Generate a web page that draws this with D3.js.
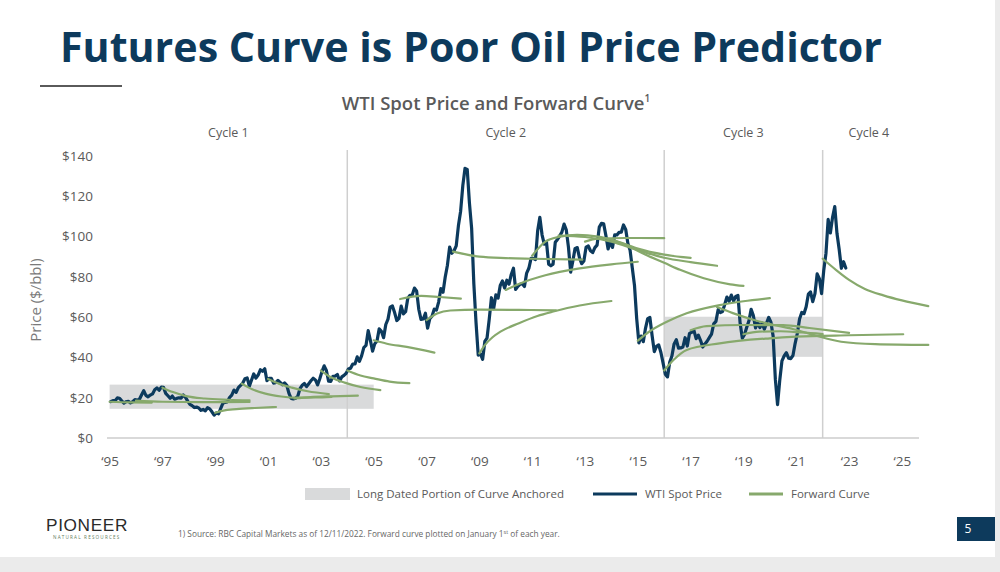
<!DOCTYPE html>
<html><head><meta charset="utf-8">
<script src="https://cdn.jsdelivr.net/npm/d3@7"></script>
<style>
html,body{margin:0;padding:0;background:#fff;}
svg{display:block;font-family:"Open Sans",sans-serif;}
</style></head>
<body><svg id="c" width="1000" height="572"></svg>
<script>
// ---------- DATA ----------
const spotStartYear = 1995;
// WTI monthly average spot price ($/bbl), Jan 1995 onward
const wtiSpot = [
18.04,18.57,18.54,19.90,19.74,18.45,17.33,18.02,18.23,17.43,17.99,19.03,
18.86,19.09,21.33,23.50,21.17,20.42,21.30,21.90,23.97,24.88,23.71,25.23,
25.13,22.18,20.97,19.70,20.82,19.26,19.66,19.95,19.80,21.33,20.19,18.33,
16.72,16.06,15.12,15.35,14.91,13.72,14.17,13.47,15.03,14.46,13.00,11.35,
12.52,12.01,14.68,17.31,17.72,17.92,20.10,21.28,23.80,22.69,25.00,26.10,
27.26,29.37,29.84,25.72,28.79,31.82,29.70,31.26,33.88,33.11,34.42,28.44,
29.59,29.61,27.25,27.49,28.63,27.60,26.43,27.37,26.20,22.17,19.64,19.39,
19.72,20.72,24.53,26.18,27.04,25.52,26.97,28.39,29.66,28.84,26.35,29.46,
32.95,35.83,33.51,28.17,28.11,30.66,30.75,31.57,28.31,30.34,31.11,32.13,
34.31,34.69,36.74,36.75,40.28,38.03,40.78,44.90,45.94,53.28,48.47,43.15,
46.84,48.15,54.19,52.98,49.83,56.35,59.00,64.99,65.59,62.26,58.32,59.41,
65.49,61.63,62.69,69.44,70.84,70.95,74.41,73.04,63.80,58.89,59.08,61.96,
54.51,59.28,60.44,63.98,63.46,67.49,74.12,72.36,79.92,85.80,94.77,91.69,
92.97,95.39,105.45,112.58,125.40,133.88,133.37,116.67,104.11,76.61,57.31,41.12,
41.71,39.09,47.94,49.65,59.03,69.64,64.15,71.05,69.41,75.72,77.99,74.47,
78.33,76.39,81.20,84.29,73.74,75.34,76.32,76.60,75.24,81.89,84.25,89.15,
89.17,88.58,102.86,109.53,100.90,96.26,97.30,86.33,85.52,86.32,97.16,98.56,
100.27,102.20,106.16,103.32,94.66,82.30,87.90,94.13,94.51,89.49,86.53,87.86,
94.76,95.31,92.94,92.02,94.51,95.77,104.67,106.57,106.29,100.54,93.86,97.63,
94.62,100.82,100.80,102.07,102.18,105.79,103.59,96.54,93.21,84.40,75.79,59.29,
47.22,50.58,47.82,54.45,59.27,59.82,50.90,42.87,45.48,46.22,42.44,37.19,
31.68,30.32,37.55,40.75,46.71,48.76,44.65,44.72,45.18,49.78,45.66,51.97,
52.50,53.47,49.33,51.06,48.48,45.18,46.63,48.04,49.82,51.58,56.64,57.88,
63.70,62.23,62.73,66.25,69.98,67.87,70.98,68.06,70.23,70.75,56.96,49.52,
51.38,54.95,58.15,63.86,60.83,54.66,57.35,54.81,56.95,53.96,57.03,59.88,
57.52,50.54,29.21,16.55,28.56,38.31,40.71,42.34,39.63,39.40,40.94,47.02,
52.00,59.04,62.33,61.72,65.17,71.38,72.49,67.73,71.65,81.48,79.15,71.71,
83.22,91.64,108.50,101.78,109.55,114.84,101.62,93.67,84.26,87.55,84.37
];

// Forward curves, plotted from January 1st of each year: [year, $/bbl]
const fwd1995 = [[1995.0,18.0],[1995.8,17.7],[1996.6,17.6]];
const fwd1996 = [[1996.0,18.6],[1997.0,18.0],[1998.5,17.8],[2000.3,17.9]];
const fwd1997 = [[1997.0,25.0],[1997.4,22.8],[1997.9,20.8],[1998.6,19.6],[1999.5,19.0],[2000.3,18.7]];
const fwd1999 = [[1999.0,12.5],[1999.3,13.6],[1999.8,14.3],[2000.5,14.9],[2001.3,15.4]];
const fwd2000 = [[2000.0,27.0],[2000.4,24.2],[2000.9,22.0],[2001.5,20.6],[2002.1,20.0],[2002.8,20.1],[2003.4,20.4]];
const fwd2001 = [[2001.0,29.3],[2001.4,27.0],[2001.9,25.0],[2002.5,23.2],[2003.3,21.8]];
const fwd2002 = [[2002.0,19.6],[2002.6,20.3],[2003.4,20.7],[2004.4,21.0]];
const fwd2003 = [[2003.0,33.5],[2003.4,30.0],[2003.9,27.5],[2004.5,25.3],[2005.25,23.8]];
const fwd2004 = [[2004.0,33.5],[2004.5,31.0],[2005.0,29.6],[2005.6,28.0],[2006.35,27.2]];
const fwd2005 = [[2005.0,48.5],[2005.5,46.8],[2006.25,45.2],[2007.3,42.4]];
const fwd2006 = [[2006.0,69.0],[2006.8,70.6],[2007.5,70.0],[2008.3,69.2]];
const fwd2007 = [[2007.0,58.5],[2007.4,61.8],[2007.9,63.3],[2009.0,63.7],[2010.5,63.6],[2011.9,63.4]];
const fwd2008 = [[2008.0,92.5],[2009.0,90.0],[2010.0,89.3],[2011.0,89.0],[2012.9,88.6]];
const fwd2009 = [[2009.0,42.0],[2009.2,46.0],[2009.5,50.0],[2009.8,52.8],[2010.5,57.0],[2011.2,60.6],[2011.8,62.8],[2012.8,65.8],[2014.0,68.0]];
const fwd2010 = [[2010.0,73.5],[2010.5,76.5],[2011.5,80.8],[2012.8,84.2],[2014.0,86.2],[2015.0,87.5]];
const fwd2011 = [[2011.0,90.5],[2011.5,97.5],[2012.0,99.8],[2012.7,100.8],[2013.5,100.0],[2014.3,97.3],[2015.0,94.0],[2016.0,91.0],[2017.0,89.4]];
const fwd2012 = [[2012.0,100.5],[2013.0,99.8],[2014.0,97.5],[2015.0,93.3],[2016.0,89.5],[2017.0,87.3],[2018.0,85.5]];
const fwd2013 = [[2013.0,97.5],[2013.5,99.0],[2014.5,99.3],[2016.0,99.2]];
const fwd2014 = [[2014.0,98.5],[2014.6,95.5],[2015.3,91.0],[2016.0,87.0],[2016.6,83.5],[2017.5,79.3],[2018.5,76.3],[2019.0,75.5]];
const fwd2015 = [[2015.0,48.3],[2015.4,52.5],[2016.1,57.7],[2016.85,61.9],[2018.1,66.0],[2019.0,67.9],[2020.0,69.4]];
const fwd2016 = [[2016.0,33.5],[2016.35,38.7],[2016.85,43.7],[2018.1,47.0],[2020.0,49.5],[2021.0,50.3],[2023.0,51.0],[2025.05,51.5]];
const fwd2017 = [[2017.0,53.5],[2017.6,55.5],[2019.0,56.1],[2020.5,56.0],[2021.5,54.6],[2023.0,52.2]];
const fwd2018 = [[2018.0,65.0],[2018.6,62.0],[2019.4,58.6],[2020.2,56.0],[2020.9,54.0],[2021.7,51.0],[2022.7,47.8],[2024.0,46.6],[2026.0,46.2]];
const fwd2019 = [[2019.0,51.5],[2019.6,52.8],[2020.4,53.0],[2021.2,52.4],[2022.0,51.6]];
const fwd2022 = [[2022.0,89.0],[2022.5,83.5],[2023.0,78.5],[2023.6,74.0],[2024.3,70.8],[2025.0,68.3],[2026.0,65.5]];
const forwardCurves = [fwd1995,fwd1996,fwd1997,fwd1999,fwd2000,fwd2001,fwd2002,fwd2003,fwd2004,fwd2005,fwd2006,fwd2007,fwd2008,fwd2009,fwd2010,fwd2011,fwd2012,fwd2013,fwd2014,fwd2015,fwd2016,fwd2017,fwd2018,fwd2019,fwd2022];

// Long-dated anchored ranges: [startYear, endYear, low $, high $]
const anchoredRanges = [[1995, 2005, 14.5, 26.5], [2016, 2022, 40.3, 60.2]];
const cycleBreaks = [2004, 2016, 2022];
const cycleNames = ["Cycle 1", "Cycle 2", "Cycle 3", "Cycle 4"];
const cycleSpans = [[1995, 2004], [2004, 2016], [2016, 2022], [2022, 2025.5]];
const yTicks = [0, 20, 40, 60, 80, 100, 120, 140];
const xTicks = [1995, 1997, 1999, 2001, 2003, 2005, 2007, 2009, 2011, 2013, 2015, 2017, 2019, 2021, 2023, 2025];
const legendItems = ["Long Dated Portion of Curve Anchored", "WTI Spot Price", "Forward Curve"];

// ---------- DRAW ----------
const NAVY = "#0c3a5d", GREEN = "#87a96c", BOX = "#d9dadb", TXT = "#5a5a5a";
const svg = d3.select("#c");

svg.append("rect").attr("x", 0).attr("y", 0).attr("width", 1000).attr("height", 572).attr("fill", "#fff");
svg.append("rect").attr("x", 995).attr("y", 0).attr("width", 5).attr("height", 572).attr("fill", "#ebebeb");
svg.append("rect").attr("x", 0).attr("y", 557).attr("width", 1000).attr("height", 15).attr("fill", "#ebebeb");

// Title
svg.append("text").attr("x", 60).attr("y", 62)
  .attr("font-size", 42).attr("font-weight", 700).attr("fill", "#0d3a5c")
  .attr("textLength", 822).attr("lengthAdjust", "spacingAndGlyphs")
  .text("Futures Curve is Poor Oil Price Predictor");
svg.append("line").attr("x1", 40).attr("x2", 122).attr("y1", 86).attr("y2", 86)
  .attr("stroke", "#5a5a5a").attr("stroke-width", 2);

const sub = svg.append("text").attr("x", 496).attr("y", 110).attr("text-anchor", "middle")
  .attr("font-size", 18.5).attr("font-weight", 600).attr("fill", TXT);
sub.append("tspan").text("WTI Spot Price and Forward Curve");
sub.append("tspan").attr("font-size", 10).attr("dy", -8).text("1");

const x = d3.scaleLinear().domain([1995, 2026]).range([109.6, 928.3]);
const y = d3.scaleLinear().domain([0, 140]).range([438, 156]);

// anchored boxes
svg.append("g").selectAll("rect").data(anchoredRanges).join("rect")
  .attr("x", d => x(d[0])).attr("width", d => x(d[1]) - x(d[0]))
  .attr("y", d => y(d[3])).attr("height", d => y(d[2]) - y(d[3]))
  .attr("fill", BOX);

// cycle dividers
svg.append("g").selectAll("line").data(cycleBreaks).join("line")
  .attr("x1", d => x(d)).attr("x2", d => x(d)).attr("y1", 150).attr("y2", 438)
  .attr("stroke", "#cfcfcf").attr("stroke-width", 1.5);

svg.append("g").selectAll("text").data(cycleSpans).join("text")
  .attr("x", d => x((d[0] + d[1]) / 2)).attr("y", 137).attr("text-anchor", "middle")
  .attr("font-size", 12.5).attr("fill", TXT).text((d, i) => cycleNames[i]);

// baseline
svg.append("line").attr("x1", 107).attr("x2", 919).attr("y1", y(0)).attr("y2", y(0))
  .attr("stroke", "#cccccc").attr("stroke-width", 1.5);

// axes
const yAxis = svg.append("g").attr("transform", "translate(107,0)")
  .call(d3.axisLeft(y).tickValues(yTicks).tickSize(0).tickPadding(14).tickFormat(d => "$" + d));
yAxis.select(".domain").remove();
yAxis.selectAll("text").attr("font-size", 13.5).attr("fill", TXT).attr("font-family", "Open Sans");

const xAxis = svg.append("g").attr("transform", `translate(0,${y(0)})`)
  .call(d3.axisBottom(x).tickValues(xTicks).tickSize(0).tickPadding(18)
    .tickFormat(d => "\u2018" + String(d).slice(2)));
xAxis.select(".domain").remove();
xAxis.selectAll("text").attr("font-size", 13.5).attr("fill", TXT).attr("font-family", "Open Sans");

svg.append("text").attr("transform", "translate(41,300) rotate(-90)").attr("text-anchor", "middle")
  .attr("font-size", 15).attr("fill", "#7a7a7a").text("Price ($/bbl)");

// spot line
const spotPts = wtiSpot.map((v, i) => [spotStartYear + (i + 0.5) / 12, v]);
svg.append("path").datum(spotPts)
  .attr("d", d3.line().x(d => x(d[0])).y(d => y(d[1])))
  .attr("fill", "none").attr("stroke", NAVY).attr("stroke-width", 3.2)
  .attr("stroke-linejoin", "round").attr("stroke-linecap", "round");

// forward curves
const fLine = d3.line().x(d => x(d[0])).y(d => y(d[1])).curve(d3.curveMonotoneX);
svg.append("g").selectAll("path").data(forwardCurves).join("path")
  .attr("d", fLine).attr("fill", "none").attr("stroke", GREEN).attr("stroke-width", 2.2)
  .attr("stroke-linecap", "round");

// legend
const lg = svg.append("g").attr("font-size", 11.5).attr("fill", TXT);
lg.append("rect").attr("x", 305).attr("y", 488).attr("width", 45).attr("height", 12).attr("fill", BOX);
lg.append("text").attr("x", 357).attr("y", 498).text(legendItems[0]);
lg.append("line").attr("x1", 593).attr("x2", 637).attr("y1", 494).attr("y2", 494).attr("stroke", NAVY).attr("stroke-width", 3);
lg.append("text").attr("x", 645).attr("y", 498).text(legendItems[1]);
lg.append("line").attr("x1", 749).attr("x2", 783).attr("y1", 494).attr("y2", 494).attr("stroke", GREEN).attr("stroke-width", 3);
lg.append("text").attr("x", 791).attr("y", 498).text(legendItems[2]);

// footer
svg.append("text").attr("x", 46).attr("y", 531).attr("font-family", "Liberation Sans")
  .attr("font-size", 16.5).attr("letter-spacing", 0.6).attr("fill", "#2a2a2a")
  .attr("textLength", 82).attr("lengthAdjust", "spacingAndGlyphs").text("PIONEER");
svg.append("text").attr("x", 53).attr("y", 539).attr("font-size", 4.6).attr("letter-spacing", 0.7)
  .attr("fill", "#5f7d5e").attr("textLength", 67).text("NATURAL RESOURCES");

const fn = svg.append("text").attr("x", 178).attr("y", 537).attr("font-size", 8.3).attr("fill", "#666");
fn.append("tspan").text("1) Source: RBC Capital Markets as of 12/11/2022.  Forward curve plotted on January 1");
fn.append("tspan").attr("font-size", 5.5).attr("dy", -3).text("st");
fn.append("tspan").attr("dy", 3).text(" of each year.");

svg.append("rect").attr("x", 957).attr("y", 517).attr("width", 38).attr("height", 24).attr("fill", "#0d3a5c");
svg.append("text").attr("x", 968).attr("y", 533).attr("text-anchor", "middle")
  .attr("font-size", 12).attr("fill", "#fff").text("5");
</script></body></html>
